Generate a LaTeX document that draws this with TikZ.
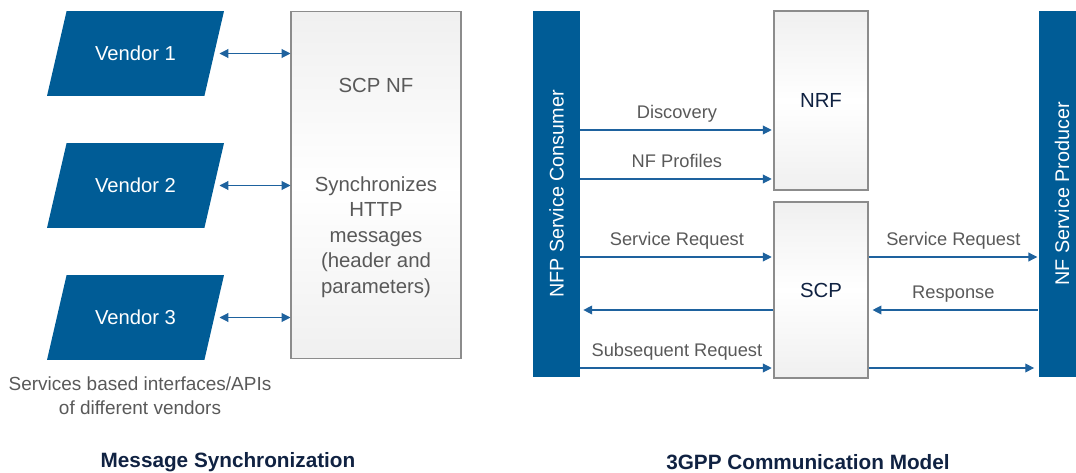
\documentclass[tikz,border=0pt]{standalone}
\usepackage{fontspec}
\setmainfont{Liberation Sans}
\usetikzlibrary{shapes.geometric,arrows.meta,positioning}
\definecolor{scpblue}{RGB}{0,92,150}
\definecolor{scpline}{RGB}{30,98,158}
\definecolor{scpgray}{RGB}{89,89,89}
\definecolor{scpnavy}{RGB}{16,34,66}
\definecolor{scpframe}{RGB}{140,140,140}

\begin{document}
\begin{tikzpicture}[
    x=0.02cm, y=-0.02cm,
    vendor/.style={trapezium, trapezium left angle=77, trapezium right angle=103, trapezium stretches body=true, minimum width=3.54cm, inner xsep=0pt, inner ysep=20pt, text height=8.2pt, text depth=0pt, fill=scpblue, text=white, font=\fontsize{11.5}{14}\selectfont},
    nfbox/.style={draw=scpframe, line width=0.6pt, top color=black!6, bottom color=black!6, middle color=white, inner sep=0pt, font=\fontsize{11.6}{14.5}\selectfont},
    boxtext/.style={text=scpgray, align=center, font=\fontsize{11.6}{14.5}\selectfont},
    bar/.style={fill=scpblue, minimum width=0.94cm, minimum height=7.32cm, inner sep=0pt},
    bartext/.style={rotate=90, text=white, font=\fontsize{11.25}{14}\selectfont},
    lbl/.style={above=3pt, inner sep=1pt, text height=7.5pt, text depth=2pt, text=scpgray, font=\fontsize{10.4}{12}\selectfont},
    note/.style={text=scpgray, align=center, font=\fontsize{10.8}{13.6}\selectfont},
    caption/.style={text=scpnavy, font=\bfseries\fontsize{11.8}{14}\selectfont},
    msg/.style={-{Triangle[length=5pt, width=5pt]}, line width=0.6pt, draw=scpline},
    duplex/.style={{Triangle[length=5pt, width=5pt]}-{Triangle[length=5pt, width=5pt]}, line width=0.6pt, draw=scpline}
]
\useasboundingbox (0,0) rectangle (1076,473);

% message synchronization
\node[vendor] (v1) at (135.5,53.5) {Vendor 1};
\node[vendor] (v2) at (135.5,185.5) {Vendor 2};
\node[vendor] (v3) at (135.5,317.5) {Vendor 3};
\node[nfbox, minimum width=3.4cm, minimum height=6.96cm] (scpnf) at (376,185) {};
\node[boxtext] (scpnfname) at (376,85) {SCP NF};
\node[boxtext] (scpnfdesc) at (376,237) {Synchronizes\\HTTP\\messages\\(header and\\parameters)};

\draw[duplex, shorten <=2.8pt] (v1.east) -- (v1.east -| scpnf.west);
\draw[duplex, shorten <=2.8pt] (v2.east) -- (v2.east -| scpnf.west);
\draw[duplex, shorten <=2.8pt] (v3.east) -- (v3.east -| scpnf.west);

\node[note] (apis) at (140,396) {Services based interfaces/APIs\\of different vendors};
\node[caption] (msgsync) at (228,462) {Message Synchronization};

% 3GPP communication model
\node[bar, label={[bartext]center:NFP Service Consumer}] (cons) at (556.5,194) {};
\node[bar, label={[bartext]center:NF Service Producer}] (prod) at (1062,194) {};
\node[nfbox, minimum width=1.88cm, minimum height=3.58cm, text=scpnavy] (nrf) at (821,100.5) {NRF};
\node[nfbox, minimum width=1.88cm, minimum height=3.52cm, text=scpnavy] (scp) at (821,290) {SCP};

\coordinate (rdisc) at (0,130);
\coordinate (rprof) at (0,179);
\coordinate (rreq) at (0,257);
\coordinate (rresp) at (0,310);
\coordinate (rsub) at (0,368);

\draw[msg, shorten >=1pt] (cons.east |- rdisc) -- node[lbl] {Discovery} (nrf.west |- rdisc);
\draw[msg, shorten >=1pt] (cons.east |- rprof) -- node[lbl] {NF Profiles} (nrf.west |- rprof);
\draw[msg, shorten >=1pt] (cons.east |- rreq) -- node[lbl] {Service Request} (scp.west |- rreq);
\draw[msg, shorten >=1.7pt] (scp.west |- rresp) -- (cons.east |- rresp);
\draw[msg, shorten >=1pt] (cons.east |- rsub) -- node[lbl] {Subsequent Request} (scp.west |- rsub);

\draw[msg, shorten >=0.5pt] (scp.east |- rreq) -- node[lbl] {Service Request} (prod.west |- rreq);
\draw[msg, shorten >=2.3pt] (prod.west |- rresp) -- node[lbl] {Response} (scp.east |- rresp);
\draw[msg, shorten >=2.3pt] (scp.east |- rsub) -- (prod.west |- rsub);

\node[caption] (gppmodel) at (808,462) {3GPP Communication Model};
\end{tikzpicture}
\end{document}
